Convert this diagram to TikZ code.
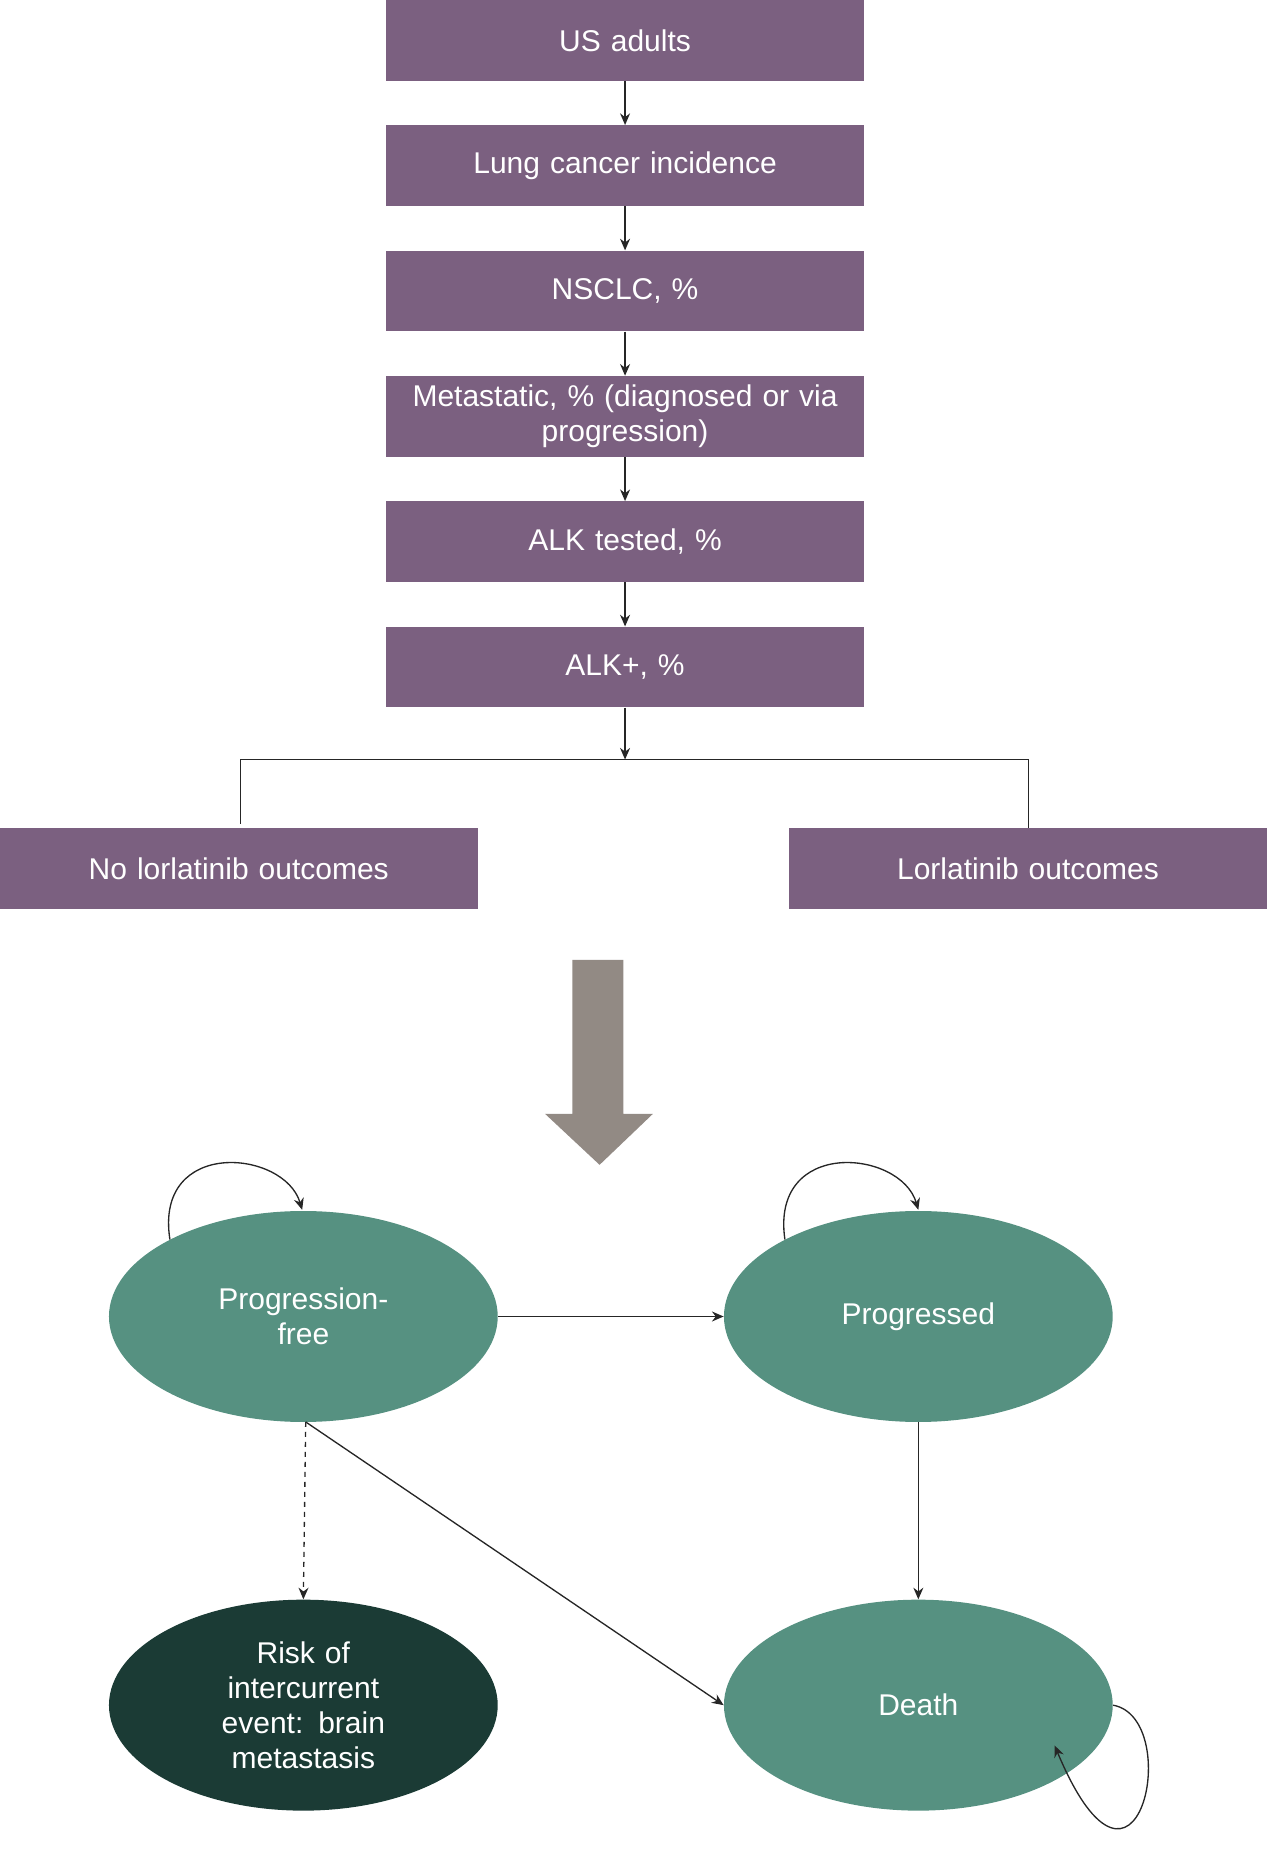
\documentclass[tikz,border=0pt]{standalone}
\usepackage{fontspec}
\setmainfont{Liberation Sans}
\usetikzlibrary{arrows.meta, positioning, shapes.geometric}
\definecolor{boxpurple}{HTML}{7B6080}
\definecolor{stateteal}{HTML}{569181}
\definecolor{statedark}{HTML}{1B3B35}
\definecolor{bigarrow}{HTML}{928A84}
\begin{document}
\begin{tikzpicture}[
    x=0.025cm, y=-0.025cm,
    node distance=0.93cm,
    stepbox/.style={rectangle, fill=boxpurple, text=white, minimum width=10.075cm, minimum height=1.7cm, text width=9.9cm, align=center, inner sep=0pt, font=\fontsize{18}{21}\selectfont},
    state/.style={ellipse, fill=stateteal, text=white, minimum width=8.2cm, minimum height=4.45cm, text width=4.2cm, align=center, font=\fontsize{18}{21}\selectfont},
    arrow/.style={-{Stealth[length=7pt,width=6pt]}, thick, draw=black!85}
]
\useasboundingbox (0,0) rectangle (1069,1568);

% funnel
\node[stepbox] (us) at (527.5,34) {US adults};
\node[stepbox, below=of us] (lung) {Lung cancer incidence};
\node[stepbox, below=of lung] (nsclc) {NSCLC, \%};
\node[stepbox, below=of nsclc] (meta) {Metastatic, \% (diagnosed or via\\progression)};
\node[stepbox, below=of meta] (tested) {ALK tested, \%};
\node[stepbox, below=of tested] (alk) {ALK+, \%};

% branches
\node[stepbox] (nolor) at (201.5,733) {No lorlatinib outcomes};
\node[stepbox] (lor) at (867.5,733) {Lorlatinib outcomes};
\coordinate (split) at (527.5,641);

\draw[arrow] (us) -- (lung);
\draw[arrow] (lung) -- (nsclc);
\draw[arrow] (nsclc) -- (meta);
\draw[arrow] (meta) -- (tested);
\draw[arrow] (tested) -- (alk);
\draw[arrow] (alk) -- (split);
\draw[thick, draw=black!85] (203,695) |- (split) -| (868,699);

% big arrow
\fill[bigarrow] (483,810) -- (526,810) -- (526,940) -- (551,940) -- (506,983) -- (460,940) -- (483,940) -- cycle;

% states
\node[state] (pf) at (256,1111) {Progression-free};
\node[state] (prog) at (775,1111) {Progressed};
\node[state] (death) at (775,1439) {Death};
\node[state, fill=statedark] (risk) at (256,1439) {Risk of\\intercurrent\\event: brain\\metastasis};

\draw[arrow] (pf) -- (prog);
\draw[arrow] (prog.south) -- (death.north);
\draw[arrow] (258,1200) -- (death.west);
\draw[arrow, dashed] (258,1200) -- (risk.north);

% self loops
\draw[arrow] (pf.150) .. controls (130,960) and (240,970) .. (255,1021);
\draw[arrow] (prog.150) .. controls (650,960) and (760,970) .. (775,1021);
\draw[arrow] (death.east) .. controls (1000,1450) and (960,1640) .. (890,1473);
\end{tikzpicture}
\end{document}
